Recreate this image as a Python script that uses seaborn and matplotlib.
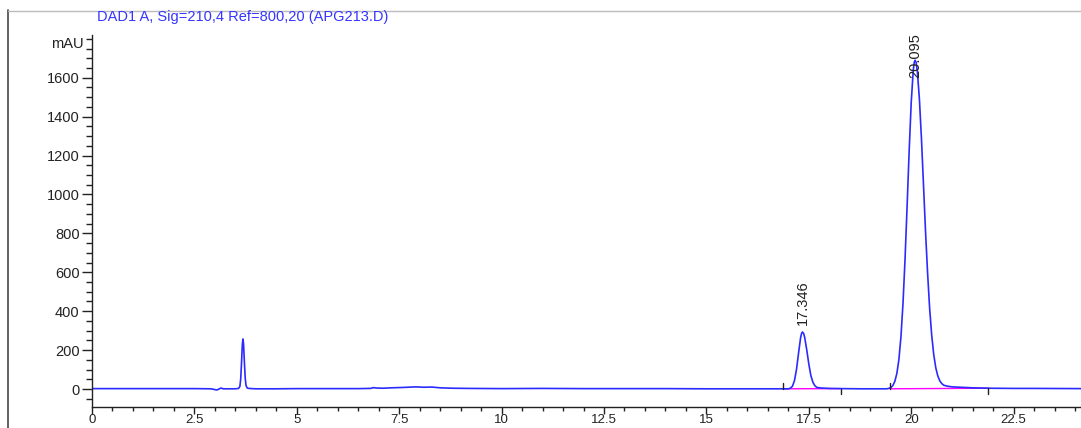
import matplotlib
matplotlib.use("Agg")
import matplotlib.pyplot as plt
from matplotlib.lines import Line2D
from matplotlib.ticker import MultipleLocator
import seaborn as sns
import pandas as pd

# ---------------- data ----------------
time_min = [0.0, 0.5, 1.0, 1.5, 2.0, 2.5, 2.9, 3.0, 3.05, 3.1, 3.15, 3.2, 3.3, 3.5,
            3.58, 3.61, 3.63, 3.65, 3.67, 3.685, 3.70, 3.72, 3.74, 3.76, 3.79, 3.83,
            3.9, 4.0, 4.5, 5.0, 5.5, 6.0, 6.5, 6.8, 6.87, 6.95, 7.1, 7.3, 7.6, 7.9,
            8.1, 8.3, 8.5, 8.8, 9.2, 10.0, 11.0, 12.0, 13.0, 14.0, 15.0, 16.0, 16.5,
            16.9, 17.0, 17.05, 17.1, 17.15, 17.2, 17.25, 17.3, 17.325, 17.346, 17.375,
            17.4, 17.45, 17.5, 17.55, 17.6, 17.65, 17.7, 17.8, 17.9, 18.0, 18.3, 18.8,
            19.2, 19.4, 19.45, 19.5, 19.55, 19.6, 19.65, 19.7, 19.75, 19.8, 19.85,
            19.9, 19.95, 20.0, 20.05, 20.075, 20.095, 20.12, 20.15, 20.2, 20.25, 20.3,
            20.35, 20.4, 20.45, 20.5, 20.55, 20.6, 20.65, 20.7, 20.75, 20.8, 20.9,
            21.0, 21.2, 21.5, 21.9, 22.5, 23.0, 24.15]
signal_mau = [2, 2, 2, 2, 2, 2, 1, -3, -5, 0, 5, 1, 1, 1,
              3, 13, 50, 132, 228, 257, 232, 140, 58, 18, 5, 3,
              2, 1, 1, 2, 2, 2, 2, 3, 7, 5, 4, 6, 8, 11,
              9, 10, 6, 4, 3, 2, 3, 2, 2, 2, 1, 1, 1,
              1, 1, 4, 14, 43, 101, 185, 264, 287, 293, 285,
              265, 201, 129, 69, 35, 16, 8, 5, 4, 3, 2, 1,
              1, 1, 3, 7, 17, 39, 80, 152, 269, 441, 669,
              940, 1222, 1471, 1638, 1680, 1690, 1678, 1633, 1491, 1288, 1050,
              809, 597, 415, 278, 177, 109, 67, 41, 27, 19, 14,
              11, 9, 6, 4, 3, 3, 2]

peak_times = [17.346, 20.095]
peak_labels = ["17.346", "20.095"]
peak_heights = [293, 1690]
baseline_start_t = [16.87, 19.48]
baseline_end_t = [18.29, 21.88]
baseline_start_y = [1, 1]
baseline_end_y = [2, 4]

x_ticks = [0, 2.5, 5, 7.5, 10, 12.5, 15, 17.5, 20, 22.5]
x_tick_labels = ["0", "2.5", "5", "7.5", "10", "12.5", "15", "17.5", "20", "22.5"]
y_ticks = [0, 200, 400, 600, 800, 1000, 1200, 1400, 1600]

title_text = "DAD1 A, Sig=210,4 Ref=800,20 (APG213.D)"
y_unit = "mAU"

# ---------------- style / layout ----------------
sns.set_style("ticks")
plt.rcParams["font.family"] = ["Liberation Sans", "DejaVu Sans"]

W, H = 1081, 428
fig = plt.figure(figsize=(W / 100, H / 100), dpi=100)
ax = fig.add_axes([92 / W, (H - 407) / H, (W - 92) / W, (407 - 35) / H])

df = pd.DataFrame({"t": time_min, "s": signal_mau})
sns.lineplot(data=df, x="t", y="s", ax=ax, color="#2b2bff", linewidth=1.2,
             estimator=None, sort=True)

# integration baselines and markers
for t0, t1, y0, y1 in zip(baseline_start_t, baseline_end_t, baseline_start_y, baseline_end_y):
    ax.plot([t0, t1], [y0, y1], color="#ff00ff", linewidth=1.0, zorder=1)
    ax.plot([t0, t0], [y0, y0 + 28], color="#222222", linewidth=1.0)
    ax.plot([t1, t1], [y1, y1 - 28], color="#222222", linewidth=1.0)

# peak labels
label_bottoms = [330, 1598]
for t, lab, yb in zip(peak_times, peak_labels, label_bottoms):
    ax.text(t, yb, lab, rotation=90, ha="center", va="bottom",
            fontsize=10.5, color="#222222")

ax.set_xlim(0, (W - 92) / 40.96)
ax.set_ylim(-92.5, 1819.5)
ax.set_xticks(x_ticks)
ax.set_xticklabels(x_tick_labels)
ax.set_yticks(y_ticks)
ax.xaxis.set_minor_locator(MultipleLocator(0.5))
ax.yaxis.set_minor_locator(MultipleLocator(50))
ax.tick_params(axis="both", which="major", direction="out", length=7, width=1,
               labelsize=10.5, colors="#222222", pad=2)
ax.tick_params(axis="x", which="major", length=5, pad=0, labelsize=9.5)
ax.tick_params(axis="both", which="minor", direction="out", length=4, width=1,
               colors="#222222")
ax.tick_params(axis="x", which="minor", length=3)
ax.set_xlabel("")
ax.set_ylabel("")
for side in ["top", "right"]:
    ax.spines[side].set_visible(False)
for side in ["left", "bottom"]:
    ax.spines[side].set_color("#222222")
    ax.spines[side].set_linewidth(1.0)

# title and unit
fig.text(97 / W, 1 - 17 / H, title_text, color="#3535ff", fontsize=10.5,
         ha="left", va="center")
fig.text(84 / W, 1 - 44 / H, y_unit, color="#222222", fontsize=10.5,
         ha="right", va="center")

# page frame lines
fig.add_artist(Line2D([8 / W, 8 / W], [0, 1 - 10 / H], color="#555555", linewidth=1.3))
fig.add_artist(Line2D([8 / W, 1], [1 - 10.5 / H, 1 - 10.5 / H], color="#bbbbbb", linewidth=1.0))

fig.savefig("out.png", dpi=100)
